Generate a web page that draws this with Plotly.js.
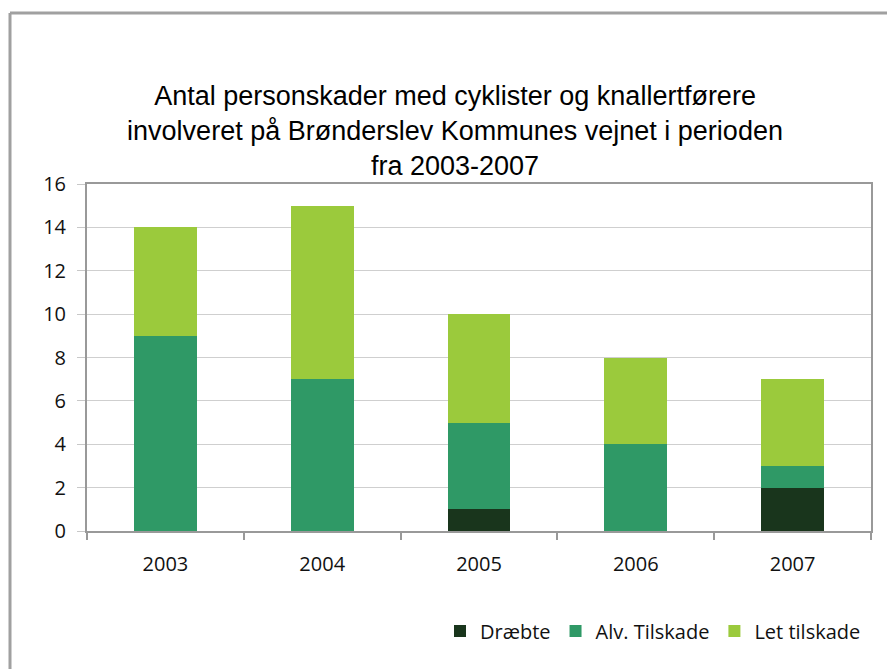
<!DOCTYPE html>
<html><head><meta charset="utf-8">
<script src="https://cdn.plot.ly/plotly-3.0.1.min.js"></script>
<style>html,body{margin:0;padding:0;background:#fff}#chart{width:887px;height:669px}</style>
</head><body><div id="chart"></div>
<script>
const years = ['2003','2004','2005','2006','2007'];
const draebte = [0, 0, 1, 0, 2];
const alvTilskade = [9, 7, 4, 4, 1];
const letTilskade = [5, 8, 5, 4, 4];
const seriesNames = ['Dræbte', 'Alv. Tilskade', 'Let tilskade'];
const colors = ['#19351c', '#2f9966', '#9bca3c'];
const yTicks = [0,2,4,6,8,10,12,14,16];

const W = 887, H = 669, L = 87, R = 16, T = 184, B = 138;
const pw = W - L - R, ph = H - T - B;
const px = x => (x - L) / pw;
const py = y => (H - B - y) / ph;

const traces = [draebte, alvTilskade, letTilskade].map((v, i) => ({
  type: 'bar', x: years, y: v, name: seriesNames[i],
  marker: {color: colors[i], line: {width: 0}}, hoverinfo: 'y'
}));

const tickFont = {family: 'Open Sans, Noto Sans, sans-serif', size: 20, color: '#111'};
const layout = {
  width: W, height: H, barmode: 'stack', bargap: 0.6,
  margin: {l: L, r: R, t: T, b: B},
  paper_bgcolor: '#fff', plot_bgcolor: '#fff',
  title: {text: 'Antal personskader med cyklister og knallertførere<br>involveret på Brønderslev Kommunes vejnet i perioden<br>fra 2003-2007',
    font: {family: 'Liberation Sans, Arial, sans-serif', size: 27, color: '#000'},
    x: 0.513, xanchor: 'center', y: 1 - 105 / H, yanchor: 'top'},
  xaxis: {type: 'category', tickson: 'boundaries', ticks: 'outside', ticklen: 7, tickcolor: '#999', tickwidth: 2,
    showline: true, linecolor: '#999', linewidth: 2, mirror: true, showgrid: false,
    tickfont: tickFont, ticklabelstandoff: 14, fixedrange: true},
  yaxis: {range: [0, 16], tickvals: yTicks, ticks: 'outside', ticklen: 8, tickcolor: '#c8c8c8', tickwidth: 1,
    showline: true, linecolor: '#999', linewidth: 2, mirror: true,
    showgrid: true, gridcolor: '#cfcfcf', gridwidth: 1, zeroline: false,
    tickfont: tickFont, ticklabelstandoff: 7, fixedrange: true},
  legend: {orientation: 'h', x: px(866), xanchor: 'right', y: py(631), yanchor: 'middle',
    font: {family: 'Open Sans, Noto Sans, sans-serif', size: 20, color: '#111'}, traceorder: 'normal',
    itemwidth: 30, bgcolor: 'rgba(0,0,0,0)'},
  showlegend: true,
  shapes: [
    {type: 'line', xref: 'paper', yref: 'paper', x0: px(10), x1: px(10), y0: py(H + 5), y1: py(13), line: {color: '#a0a0a0', width: 3}},
    {type: 'line', xref: 'paper', yref: 'paper', x0: px(10), x1: px(W + 5), y0: py(13), y1: py(13), line: {color: '#a0a0a0', width: 3}}
  ]
};
Plotly.newPlot('chart', traces, layout, {displayModeBar: false, staticPlot: true});
</script></body></html>
